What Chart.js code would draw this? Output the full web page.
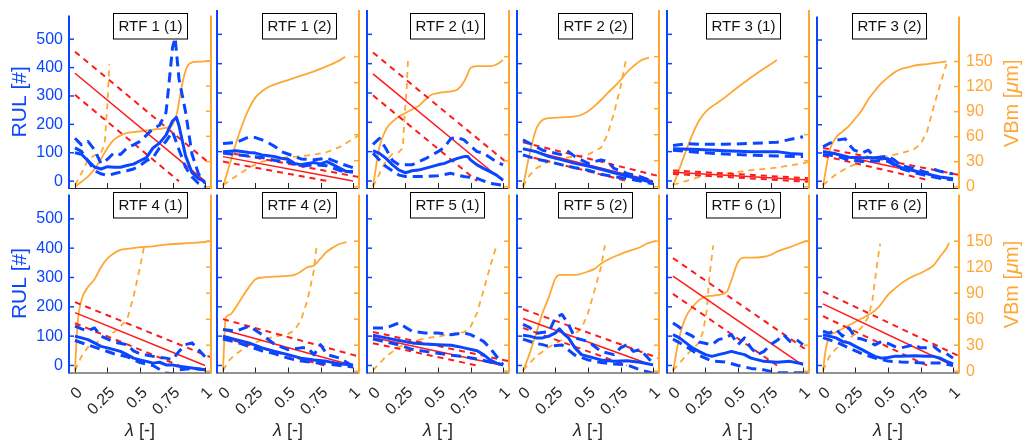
<!DOCTYPE html>
<html><head><meta charset="utf-8">
<script src="https://cdn.jsdelivr.net/npm/chart.js@4.4.1/dist/chart.umd.min.js"></script>
<style>
html,body{margin:0;padding:0;background:#fff;}
#wrap{position:relative;width:1027px;height:445px;overflow:hidden;background:#fff;}
#wrap canvas{position:absolute;left:0;top:0;}
</style></head><body><div id="wrap"></div>
<script>
// ---------------- DATA ----------------
const panelTitles = ['RTF 1 (1)','RTF 1 (2)','RTF 2 (1)','RTF 2 (2)','RTF 3 (1)','RTF 3 (2)',
                     'RTF 4 (1)','RTF 4 (2)','RTF 5 (1)','RTF 5 (2)','RTF 6 (1)','RTF 6 (2)'];
const lambdaTicks = [0, 0.25, 0.5, 0.75, 1];
const lambdaTickLabels = ['0', '0.25', '0.5', '0.75', '1'];
const rulTicks = [0, 100, 200, 300, 400, 500];
const vbmTicks = [0, 30, 60, 90, 120, 150];

// RUL estimate (blue solid), [lambda, RUL]
const rulEstimate = [
 [[0,100],[0.05,95],[0.1,72],[0.15,50],[0.2,43],[0.25,51],[0.3,49],[0.35,49],[0.4,55],[0.45,60],[0.5,72],[0.55,83],[0.6,117],[0.65,134],[0.7,162],[0.75,212],[0.78,225],[0.8,195],[0.85,90],[0.9,30],[0.95,9],[1,-2]],
 [[0,100],[0.1,103],[0.2,97],[0.25,95],[0.3,89],[0.35,86],[0.4,83],[0.45,77],[0.5,74],[0.55,60],[0.6,55],[0.65,60],[0.7,63],[0.75,58],[0.8,66],[0.85,55],[0.9,43],[0.95,32],[1,32]],
 [[0,103],[0.05,94],[0.1,77],[0.15,55],[0.2,37],[0.25,28],[0.3,35],[0.35,37],[0.4,43],[0.45,49],[0.5,55],[0.55,60],[0.6,69],[0.65,77],[0.7,83],[0.73,83],[0.75,72],[0.8,55],[0.85,43],[0.9,32],[0.95,20],[1,3]],
 [[0,110],[0.1,100],[0.2,83],[0.3,72],[0.4,60],[0.5,51],[0.6,40],[0.7,28],[0.8,17],[0.9,6],[1,-6]],
 [[0,110],[0.2,107],[0.4,103],[0.6,100],[0.8,100],[0.9,94],[1,91]],
 [[0,105],[0.1,97],[0.2,85],[0.3,83],[0.4,83],[0.5,80],[0.55,60],[0.6,49],[0.7,37],[0.8,26],[0.85,20],[0.9,15],[1,9]],
 [[0,100],[0.05,94],[0.1,88],[0.15,77],[0.2,65],[0.25,60],[0.3,54],[0.35,48],[0.4,37],[0.45,25],[0.5,19],[0.55,14],[0.6,8],[0.65,11],[0.7,2],[0.75,2],[0.8,-3],[0.9,-9],[1,-15]],
 [[0,100],[0.1,88],[0.2,77],[0.3,60],[0.4,48],[0.5,37],[0.6,25],[0.7,19],[0.8,14],[0.9,5],[1,2]],
 [[0,103],[0.1,94],[0.2,85],[0.3,77],[0.4,73],[0.5,71],[0.6,69],[0.65,65],[0.7,60],[0.8,50],[0.85,37],[0.9,19],[0.95,8],[1,2]],
 [[0,103],[0.05,100],[0.1,94],[0.15,94],[0.2,100],[0.25,111],[0.28,125],[0.32,105],[0.35,94],[0.4,60],[0.45,37],[0.5,31],[0.55,25],[0.6,19],[0.7,14],[0.8,16],[0.9,11],[1,2]],
 [[0,105],[0.05,94],[0.1,77],[0.15,60],[0.2,48],[0.25,37],[0.3,31],[0.35,37],[0.4,42],[0.45,48],[0.5,42],[0.55,37],[0.6,25],[0.7,14],[0.8,11],[0.9,14],[1,5]],
 [[0,105],[0.05,100],[0.1,94],[0.15,82],[0.2,77],[0.25,65],[0.3,54],[0.35,42],[0.4,31],[0.45,25],[0.5,27],[0.55,31],[0.6,31],[0.7,33],[0.8,31],[0.85,31],[0.9,25],[0.95,14],[1,5]]
];
// RUL upper bound (blue dashed)
const rulUpperBound = [
 [[0,151],[0.05,128],[0.1,140],[0.15,111],[0.2,62],[0.25,77],[0.3,100],[0.35,94],[0.4,117],[0.45,128],[0.5,140],[0.55,162],[0.6,185],[0.65,197],[0.7,242],[0.72,330],[0.75,470],[0.77,505],[0.8,360],[0.85,245],[0.9,95],[0.95,26],[1,-8]],
 [[0,128],[0.1,131],[0.2,150],[0.25,148],[0.3,140],[0.35,130],[0.4,117],[0.45,100],[0.5,92],[0.6,75],[0.7,72],[0.8,78],[0.9,60],[1,45]],
 [[0,125],[0.05,145],[0.1,110],[0.15,70],[0.2,55],[0.3,55],[0.4,75],[0.5,100],[0.55,115],[0.6,145],[0.65,148],[0.7,140],[0.75,120],[0.8,100],[0.85,95],[0.9,80],[0.95,65],[1,55]],
 [[0,140],[0.1,117],[0.15,105],[0.2,100],[0.3,89],[0.35,100],[0.4,83],[0.5,60],[0.6,72],[0.65,66],[0.7,43],[0.8,26],[0.9,15],[1,-2]],
 [[0,121],[0.1,127],[0.2,125],[0.4,125],[0.6,128],[0.8,132],[1,151]],
 [[0,122],[0.05,134],[0.1,145],[0.17,150],[0.2,130],[0.24,110],[0.3,100],[0.35,110],[0.4,83],[0.5,89],[0.55,75],[0.6,55],[0.7,45],[0.8,30],[0.85,43],[0.9,35],[1,26]],
 [[0,134],[0.05,125],[0.1,118],[0.15,128],[0.2,100],[0.3,80],[0.4,71],[0.45,50],[0.5,40],[0.6,31],[0.7,25],[0.75,20],[0.8,48],[0.85,71],[0.9,77],[0.95,54],[1,30]],
 [[0,123],[0.1,117],[0.2,134],[0.25,120],[0.3,105],[0.4,71],[0.5,54],[0.6,60],[0.65,60],[0.7,37],[0.75,71],[0.8,37],[0.9,25],[1,-3]],
 [[0,128],[0.1,128],[0.2,145],[0.25,130],[0.3,117],[0.4,111],[0.5,111],[0.6,105],[0.7,111],[0.75,105],[0.8,94],[0.85,82],[0.9,60],[1,2]],
 [[0,140],[0.05,130],[0.1,110],[0.2,115],[0.25,163],[0.3,174],[0.35,140],[0.4,94],[0.5,82],[0.6,48],[0.7,37],[0.75,60],[0.8,71],[0.85,48],[0.9,54],[1,8]],
 [[0,145],[0.05,130],[0.1,111],[0.15,100],[0.2,80],[0.3,71],[0.35,88],[0.4,94],[0.45,105],[0.5,71],[0.55,94],[0.6,60],[0.65,37],[0.7,48],[0.75,71],[0.8,85],[0.85,105],[0.9,82],[0.95,88],[1,71]],
 [[0,117],[0.05,110],[0.1,123],[0.15,100],[0.2,128],[0.25,94],[0.3,90],[0.35,82],[0.4,70],[0.45,82],[0.5,75],[0.55,65],[0.6,60],[0.65,65],[0.7,71],[0.75,60],[0.8,60],[0.85,65],[0.9,48],[0.95,40],[1,25]]
];
// RUL lower bound (blue dashed)
const rulLowerBound = [
 [[0,117],[0.05,105],[0.1,72],[0.15,37],[0.2,26],[0.25,20],[0.3,26],[0.35,32],[0.4,37],[0.45,43],[0.5,55],[0.55,72],[0.6,83],[0.65,117],[0.7,140],[0.75,175],[0.8,111],[0.85,49],[0.9,15],[0.95,-8],[1,-19]],
 [[0,95],[0.1,90],[0.2,85],[0.3,80],[0.4,70],[0.5,65],[0.6,50],[0.7,55],[0.8,52],[0.9,35],[1,30]],
 [[0,94],[0.1,49],[0.2,20],[0.25,15],[0.3,15],[0.4,15],[0.5,18],[0.6,26],[0.65,20],[0.7,15],[0.8,9],[0.9,-8],[1,-15]],
 [[0,89],[0.1,75],[0.2,66],[0.3,55],[0.4,45],[0.5,37],[0.6,23],[0.7,15],[0.8,8],[0.9,0],[1,-10]],
 [[0,105],[0.2,97],[0.4,92],[0.6,88],[0.8,85],[1,83]],
 [[0,95],[0.1,90],[0.2,75],[0.3,70],[0.4,72],[0.5,70],[0.6,45],[0.7,30],[0.8,20],[0.9,10],[1,5]],
 [[0,85],[0.1,70],[0.2,55],[0.3,40],[0.4,30],[0.5,10],[0.6,0],[0.7,-26],[0.75,-28],[0.8,-15],[0.9,-10],[1,-15]],
 [[0,90],[0.1,80],[0.2,65],[0.3,50],[0.4,40],[0.5,25],[0.6,15],[0.7,10],[0.8,5],[0.9,0],[1,-5]],
 [[0,90],[0.1,80],[0.2,70],[0.3,55],[0.4,48],[0.5,42],[0.6,35],[0.7,30],[0.8,22],[0.9,12],[1,2]],
 [[0,90],[0.1,75],[0.15,71],[0.2,65],[0.3,70],[0.4,35],[0.5,19],[0.6,10],[0.7,5],[0.8,2],[0.9,-15],[1,-26]],
 [[0,90],[0.1,65],[0.2,35],[0.3,15],[0.4,12],[0.5,0],[0.6,-10],[0.7,-15],[0.8,-25],[0.9,-25],[1,-25]],
 [[0,95],[0.1,80],[0.2,60],[0.3,40],[0.4,25],[0.5,15],[0.6,12],[0.7,10],[0.8,8],[0.9,8],[1,0]]
];
// true RUL (red solid) and its band (red dashed)
const trueRul = [
 [[0,380],[1,0]],[[0,83],[1,0]],[[0,365],[1,0]],[[0,110],[1,0]],[[0,30],[1.05,3]],[[0,104],[1,5]],
 [[0,180],[1,0]],[[0,122],[1,0]],[[0,95],[1,0]],[[0,160],[1,0]],[[0,305],[1,0]],[[0,210],[1,0]]
];
const trueRulUpper = [
 [[0,456],[1.05,57]],[[0,100],[1.05,13]],[[0,438],[1.05,55]],[[0,132],[1.05,16]],[[0,36],[1.05,9]],[[0,118],[1.05,22]],
 [[0,216],[1.05,27]],[[0,158],[1.05,30]],[[0,114],[1.05,14]],[[0,192],[1.05,24]],[[0,366],[1.05,46]],[[0,252],[1.05,31]]
];
const trueRulLower = [
 [[0,304],[0.8,0]],[[0,66],[0.8,0]],[[0,292],[0.8,0]],[[0,88],[0.8,0]],[[0,24],[1.05,-3]],[[0,90],[0.8,5]],
 [[0,144],[0.8,0]],[[0,95],[0.78,0]],[[0,76],[0.8,0]],[[0,128],[0.8,0]],[[0,244],[0.8,0]],[[0,168],[0.8,0]]
];
// VBm measured (orange solid), [lambda, VBm um]
const vbmMeasured = [
 [[0,0],[0.05,6],[0.1,12],[0.15,21],[0.2,33],[0.25,46],[0.3,56],[0.35,61],[0.4,64],[0.45,65],[0.5,66],[0.55,67],[0.6,68],[0.65,69],[0.7,70],[0.74,72],[0.77,80],[0.79,92],[0.81,110],[0.83,126],[0.86,142],[0.9,148],[0.97,149],[1.05,150]],
 [[0,0],[0.05,25],[0.1,50],[0.15,72],[0.2,90],[0.25,103],[0.3,110],[0.35,115],[0.4,118],[0.5,123],[0.6,128],[0.7,133],[0.8,139],[0.9,146],[0.94,150]],
 [[0,0],[0.05,46],[0.1,66],[0.15,75],[0.2,81],[0.25,85],[0.3,89],[0.35,93],[0.4,100],[0.45,106],[0.5,108],[0.55,109],[0.6,110],[0.65,112],[0.7,121],[0.72,127],[0.75,137],[0.8,139],[0.9,139],[0.95,141],[1,146]],
 [[0,0],[0.05,37],[0.1,66],[0.15,77],[0.2,79],[0.3,80],[0.4,81],[0.45,83],[0.5,87],[0.55,93],[0.6,100],[0.65,108],[0.7,115],[0.75,123],[0.8,132],[0.85,139],[0.9,145],[0.95,148],[0.97,149]],
 [[0,1],[0.2,76],[0.4,103],[0.6,126],[0.8,146]],
 [[0,0],[0.05,43],[0.1,59],[0.15,66],[0.2,73],[0.25,82],[0.3,92],[0.35,105],[0.4,115],[0.45,124],[0.5,131],[0.55,137],[0.6,141],[0.65,143],[0.7,145],[0.8,147],[0.9,149],[0.95,150]],
 [[0,0],[0.01,30],[0.02,55],[0.05,82],[0.1,97],[0.15,106],[0.2,120],[0.25,130],[0.3,136],[0.35,140],[0.4,141],[0.5,143],[0.6,144],[0.7,146],[0.8,147],[0.9,148],[1,149],[1.04,150]],
 [[0,0],[0.02,61],[0.05,65],[0.1,74],[0.15,86],[0.2,97],[0.25,106],[0.3,108],[0.4,109],[0.5,110],[0.55,111],[0.6,115],[0.65,120],[0.7,122],[0.75,130],[0.8,138],[0.85,143],[0.9,147],[0.95,149]],
 [],
 [[0,0],[0.05,20],[0.1,43],[0.15,67],[0.2,86],[0.25,107],[0.28,111],[0.4,111],[0.5,115],[0.55,118],[0.6,124],[0.7,132],[0.8,138],[0.9,143],[0.95,147],[1.02,150]],
 [[0,0],[0.05,40],[0.1,63],[0.15,74],[0.2,82],[0.25,86],[0.3,87],[0.35,88],[0.4,90],[0.42,93],[0.45,105],[0.5,126],[0.55,131],[0.6,131],[0.7,132],[0.75,134],[0.8,138],[0.9,143],[1,149],[1.04,150]],
 [[0,0],[0.02,24],[0.05,40],[0.1,45],[0.15,49],[0.2,53],[0.25,57],[0.3,61],[0.35,65],[0.4,70],[0.45,78],[0.5,88],[0.55,95],[0.6,101],[0.65,106],[0.7,110],[0.75,113],[0.8,117],[0.85,122],[0.9,132],[0.95,142],[0.97,148]]
];
// VBm predicted (orange dashed)
const vbmPredicted = [
 [[0,2],[0.06,19],[0.1,33],[0.16,38],[0.2,40],[0.22,48],[0.23,55],[0.25,100],[0.265,146]],
 [[0,2],[0.1,12],[0.2,22],[0.3,29],[0.4,32],[0.5,34],[0.6,35],[0.7,37],[0.8,40],[0.9,46],[1,55],[1.05,60]],
 [[0,0],[0.05,15],[0.1,30],[0.15,38],[0.2,40],[0.23,45],[0.24,75],[0.26,115],[0.27,148]],
 [[0,0],[0.05,13],[0.1,21],[0.15,25],[0.2,30],[0.3,33],[0.4,35],[0.5,37],[0.6,45],[0.65,60],[0.7,85],[0.75,115],[0.79,145]],
 [[0,2],[0.2,11],[0.4,15],[0.6,19],[0.8,22],[1,27],[1.05,29]],
 [[0,2],[0.1,15],[0.2,24],[0.3,30],[0.4,34],[0.5,37],[0.6,40],[0.7,45],[0.75,51],[0.8,66],[0.85,95],[0.9,122],[0.95,147]],
 [[0,1],[0.05,17],[0.1,28],[0.15,32],[0.2,36],[0.3,45],[0.4,59],[0.45,86],[0.5,120],[0.53,143]],
 [[0,1],[0.05,13],[0.1,20],[0.2,30],[0.3,36],[0.4,40],[0.5,43],[0.55,47],[0.6,59],[0.65,82],[0.7,117],[0.72,145]],
 [[0,1],[0.1,17],[0.2,28],[0.3,34],[0.4,38],[0.5,40],[0.6,43],[0.7,45],[0.75,51],[0.8,67],[0.85,93],[0.9,120],[0.95,145]],
 [[0,1],[0.1,17],[0.2,28],[0.3,36],[0.4,43],[0.45,49],[0.5,67],[0.55,93],[0.6,120],[0.63,145]],
 [[0,1],[0.1,18],[0.2,33],[0.23,45],[0.26,70],[0.28,110],[0.31,145]],
 [[0,1],[0.05,17],[0.1,26],[0.15,32],[0.2,38],[0.25,43],[0.3,51],[0.35,63],[0.38,82],[0.4,105],[0.42,128],[0.44,147]]
];

// ---------------- STYLE / LAYOUT ----------------
const BLUE = '#0a46ff', ORANGE = '#ffa733', RED = '#ff1a1a', AXIS = '#262626';
const FONT = '"Liberation Sans", Arial, Helvetica, sans-serif';
const W = 1027, H = 445;
const colLeft = [69, 217, 367, 517, 667, 817], PW = 142;
const rowTop = [10, 194.5], PH = 178;
const boxShift = [10, 10.5, 8.5, 7, 4.5, 0.5];
const boxTop = [13, 192];

const decor = {
  id: 'decor',
  afterDatasetsDraw(chart, args, o) {
    const ctx = chart.ctx, a = chart.chartArea;
    const cx = (a.left + a.right) / 2 + boxShift[o.col];
    const bw = 74, bh = 25.5, bx = Math.round(cx - bw / 2) + 0.5, by = boxTop[o.row] + 0.5;
    ctx.save();
    ctx.fillStyle = '#fff';
    ctx.fillRect(bx, by, bw, bh);
    ctx.strokeStyle = '#000'; ctx.lineWidth = 1;
    ctx.strokeRect(bx, by, bw, bh);
    ctx.fillStyle = '#111';
    ctx.font = '15px ' + FONT;
    ctx.textAlign = 'center'; ctx.textBaseline = 'middle';
    ctx.fillText(o.title, bx + bw / 2, by + bh / 2 + 0.5);
    ctx.restore();
  },
  afterDraw(chart, args, o) {
    const ctx = chart.ctx, a = chart.chartArea, s = chart.scales;
    ctx.save();
    // bottom axis
    ctx.strokeStyle = AXIS; ctx.lineWidth = 1;
    ctx.beginPath(); ctx.moveTo(a.left, a.bottom + 0.5); ctx.lineTo(a.right, a.bottom + 0.5); ctx.stroke();
    lambdaTicks.forEach(v => { const px = Math.round(s.x.getPixelForValue(v)) + 0.5;
      ctx.beginPath(); ctx.moveTo(px, a.bottom); ctx.lineTo(px, a.bottom - 5); ctx.stroke(); });
    // left blue axis
    ctx.strokeStyle = BLUE; ctx.lineWidth = 2;
    ctx.beginPath(); ctx.moveTo(a.left, a.top); ctx.lineTo(a.left, a.bottom + 1); ctx.stroke();
    ctx.lineWidth = 1.5;
    rulTicks.forEach(v => { const py = s.y.getPixelForValue(v);
      ctx.beginPath(); ctx.moveTo(a.left, py); ctx.lineTo(a.left + 5, py); ctx.stroke(); });
    // right orange axis
    ctx.strokeStyle = ORANGE; ctx.lineWidth = 2;
    ctx.beginPath(); ctx.moveTo(a.right, a.top); ctx.lineTo(a.right, a.bottom + 1); ctx.stroke();
    ctx.lineWidth = 1.5;
    vbmTicks.forEach(v => { const py = s.y2.getPixelForValue(v);
      ctx.beginPath(); ctx.moveTo(a.right, py); ctx.lineTo(a.right - 5, py); ctx.stroke(); });
    // mixed-style axis titles
    const drawParts = (parts, size, color) => {
      let total = 0;
      parts.forEach(p => { ctx.font = p[1] + ' ' + size + 'px ' + FONT; total += ctx.measureText(p[0]).width; });
      let x = -total / 2;
      ctx.fillStyle = color; ctx.textBaseline = 'middle'; ctx.textAlign = 'left';
      parts.forEach(p => { ctx.font = p[1] + ' ' + size + 'px ' + FONT; ctx.fillText(p[0], x, 0); x += ctx.measureText(p[0]).width; });
    };
    if (o.col === 5) {
      ctx.save(); ctx.translate(1012, (a.top + a.bottom) / 2 + 1); ctx.rotate(-Math.PI / 2);
      drawParts([['VBm [', 'normal'], ['\u03bc', 'italic'], ['m]', 'normal']], 20, ORANGE);
      ctx.restore();
    }
    if (o.row === 1) {
      ctx.save(); ctx.translate((a.left + a.right) / 2, 431);
      drawParts([['\u03bb', 'italic'], [' [-]', 'normal']], 18, AXIS);
      ctx.restore();
    }
    ctx.restore();
  }
};

const wrap = document.getElementById('wrap');
function line(data, color, width, dash, axis, smooth) {
  return { data: data, borderColor: color, borderWidth: width, borderDash: dash, yAxisID: axis,
    pointRadius: 0, fill: false, tension: smooth ? 0.4 : 0,
    cubicInterpolationMode: smooth ? 'monotone' : 'default', borderCapStyle: 'butt', borderJoinStyle: 'round' };
}
function makeChart(i) {
  const c = i % 6, r = Math.floor(i / 6);
  const L = colLeft[c], R = L + PW, T = rowTop[r], B = T + PH;
  const wl = c === 0 ? L : 0;
  const wr = c === 5 ? W - R : 0;
  const hb = r === 1 ? H - B : 0;
  const cv = document.createElement('canvas');
  cv.width = W; cv.height = H; cv.style.width = W + 'px'; cv.style.height = H + 'px';
  wrap.appendChild(cv);
  const ds = [
    line(rulEstimate[i], BLUE, 3, [], 'y'),
    line(rulUpperBound[i], BLUE, 3, [10, 6], 'y'),
    line(rulLowerBound[i], BLUE, 3, [10, 6], 'y'),
    line(trueRul[i], RED, 1.5, [], 'y'),
    line(trueRulUpper[i], RED, 2, [6, 5], 'y'),
    line(trueRulLower[i], RED, 2, [6, 5], 'y'),
    line(vbmMeasured[i], ORANGE, 1.8, [], 'y2', true),
    line(vbmPredicted[i], ORANGE, 1.8, [6, 5], 'y2')
  ];
  new Chart(cv, {
    type: 'line',
    data: { datasets: ds },
    options: {
      responsive: false, animation: false, devicePixelRatio: 1,
      layout: { padding: { left: L - wl, right: W - R - wr, top: T, bottom: H - B - hb } },
      plugins: { legend: { display: false }, tooltip: { enabled: false }, title: { display: false },
                 decor: { col: c, row: r, title: panelTitles[i] } },
      scales: {
        x: { type: 'linear', position: 'bottom', min: -0.046, max: 1.046,
          afterBuildTicks: s => { s.ticks = lambdaTicks.map(v => ({ value: v })); },
          afterFit: s => { s.height = hb; },
          grid: { display: false, drawTicks: false }, border: { display: false },
          ticks: { display: r === 1, autoSkip: false, minRotation: 45, maxRotation: 45, padding: 11, labelOffset: 5,
            color: AXIS, font: { family: FONT, size: 16 },
            callback: v => lambdaTickLabels[lambdaTicks.indexOf(v)] } },
        y: { type: 'linear', position: 'left', min: -24, max: 583,
          afterBuildTicks: s => { s.ticks = rulTicks.map(v => ({ value: v })); },
          afterFit: s => { s.width = wl; },
          grid: { display: false, drawTicks: false }, border: { display: false },
          ticks: { display: c === 0, color: BLUE, font: { family: FONT, size: 16 }, padding: 6 },
          title: { display: c === 0, text: 'RUL [#]', color: BLUE, font: { family: FONT, size: 21 }, padding: { top: 8, bottom: 0 } } },
        y2: { type: 'linear', position: 'right', min: -1.5, max: 203.8,
          afterBuildTicks: s => { s.ticks = vbmTicks.map(v => ({ value: v })); },
          afterFit: s => { s.width = wr; },
          grid: { display: false, drawTicks: false }, border: { display: false },
          ticks: { display: c === 5, color: ORANGE, font: { family: FONT, size: 16 }, padding: 7 } }
      }
    },
    plugins: [decor]
  });
}
for (let i = 0; i < 12; i++) makeChart(i);
</script>
</body></html>
